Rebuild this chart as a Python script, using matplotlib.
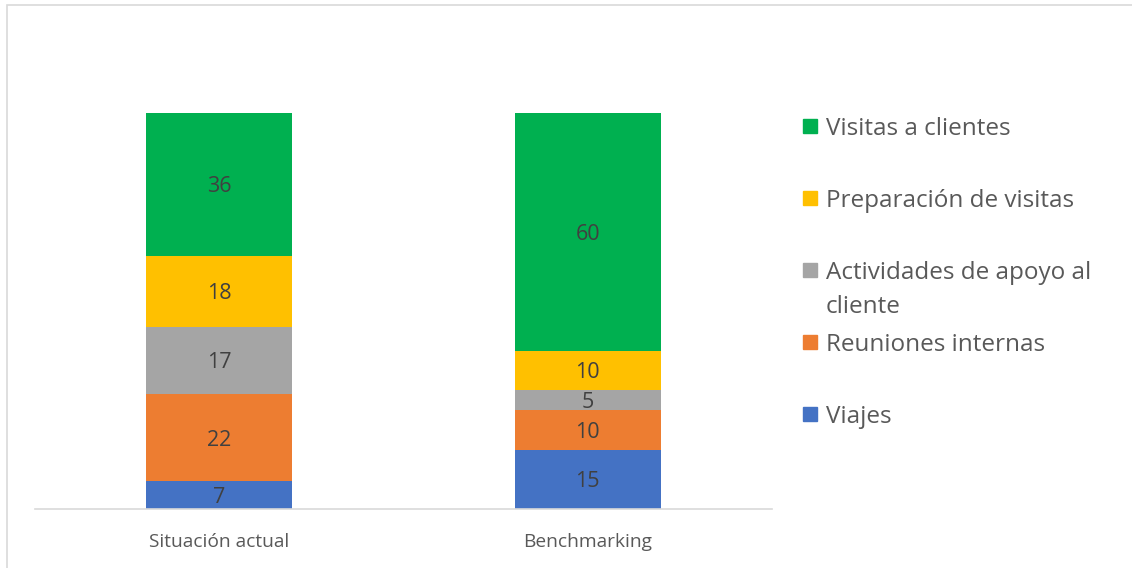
import numpy as np
import matplotlib.pyplot as plt
from matplotlib.patches import Rectangle

categories = ["Situación actual", "Benchmarking"]
series_names = ["Viajes", "Reuniones internas", "Actividades de apoyo al\ncliente",
                "Preparación de visitas", "Visitas a clientes"]
viajes = [7, 15]
reuniones = [22, 10]
apoyo = [17, 5]
preparacion = [18, 10]
visitas = [36, 60]
colors = ["#4472C4", "#ED7D31", "#A5A5A5", "#FFC000", "#00B050"]

FONT = "Open Sans"
TXT = "#595959"

W, H = 1132, 568
fig = plt.figure(figsize=(W / 100, H / 100), dpi=100)
ax = fig.add_axes([35 / W, (H - 509) / H, (772 - 35) / W, (509 - 113) / H])

x = np.arange(len(categories))
bottom = np.zeros(len(categories))
for vals, col in zip([viajes, reuniones, apoyo, preparacion, visitas], colors):
    vals = np.array(vals, dtype=float)
    bars = ax.bar(x, vals, width=0.396, bottom=bottom, color=col, edgecolor="none")
    for b, v, y0 in zip(bars, vals, bottom):
        ax.text(b.get_x() + b.get_width() / 2, y0 + v / 2, f"{v:g}",
                ha="center", va="center_baseline", fontsize=15.5, color="#404040",
                family=FONT)
    bottom += vals

ax.set_xlim(-0.5, 1.5)
ax.set_ylim(0, 100)
ax.set_yticks([])
ax.set_xticks(x)
ax.set_xticklabels(categories, fontsize=13.8, color=TXT, family=FONT)
ax.tick_params(axis="x", length=0, pad=17.5)
for s in ["top", "right", "left"]:
    ax.spines[s].set_visible(False)
ax.spines["bottom"].set_color("#D9D9D9")
ax.spines["bottom"].set_linewidth(1.2)

# legend on the right, top entry first; wrapped labels go on extra lines
leg_y = [126, 198, 270, 342, 414]
for name, col, yy in zip(series_names[::-1], colors[::-1], leg_y):
    fig.patches.append(Rectangle((803 / W, 1 - (yy + 7) / H), 14 / W, 14 / H,
                                 transform=fig.transFigure, color=col))
    for i, line in enumerate(name.split("\n")):
        fig.text(826 / W, 1 - (yy + 34 * i) / H, line, fontsize=17.5, color=TXT,
                 family=FONT, va="center_baseline", transform=fig.transFigure)

# chart frame
fig.patches.append(Rectangle((6.5 / W, -0.05), 1.2, 1 - 5.5 / H + 0.05,
                             transform=fig.transFigure, fill=False,
                             edgecolor="#D9D9D9", linewidth=1.2))

fig.savefig("out.png", dpi=100)
